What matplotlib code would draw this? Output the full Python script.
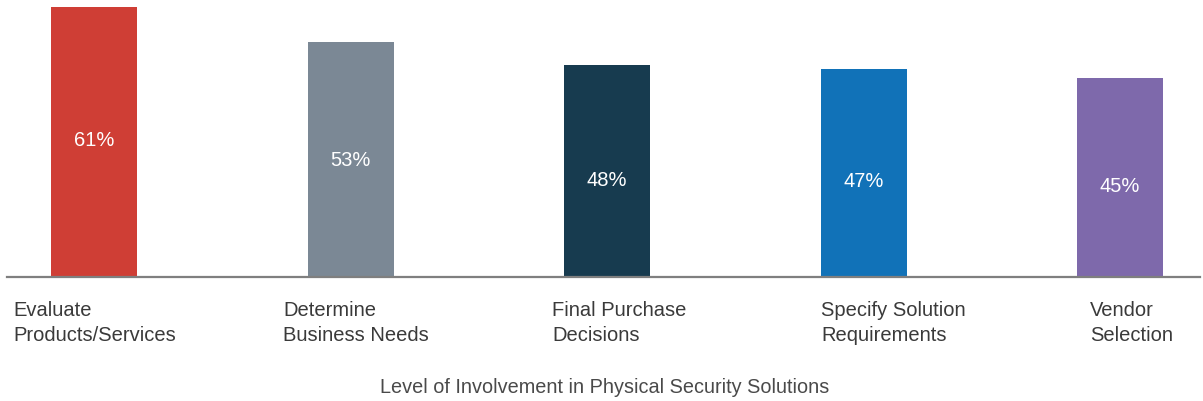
import matplotlib.pyplot as plt

# Involvement data
categories = ['Evaluate\nProducts/Services', 'Determine\nBusiness Needs', 'Final Purchase\nDecisions',
              'Specify Solution\nRequirements', 'Vendor\nSelection']
values = [61, 53, 48, 47, 45]
colors = ['#CF3E35', '#7B8895', '#173B4F', '#1172B8', '#7E69AB']
xlabel = 'Level of Involvement in Physical Security Solutions'

W, H = 1203, 402
fig = plt.figure(figsize=(W / 100, H / 100), dpi=100)

# axes placed in pixels: baseline at y=278 from top, spans x 7..1200
left, right = 7, 1200
base = H - 278
ax = fig.add_axes([left / W, base / H, (right - left) / W, 1 - base / H])
step = 256.5
c0 = 94
ax.set_xlim((left - c0) / step, (right - c0) / step)
ax.set_ylim(0, (H - base) / 4.426)

xs = range(len(values))
ax.bar(xs, values, width=86 / step, color=colors, zorder=2)

# value labels sit roughly mid-bar (slightly lower on the shorter bars)
label_frac = [0.511, 0.499, 0.459, 0.466, 0.457]
for x, v, f in zip(xs, values, label_frac):
    ax.text(x, v * f, f'{v}%', ha='center', va='center', color='white',
            fontsize=14.5, family='Liberation Sans')

for s in ['top', 'right', 'left']:
    ax.spines[s].set_visible(False)
ax.spines['bottom'].set_color('#7f7f7f')
ax.spines['bottom'].set_linewidth(1.6)
ax.set_xticks([])
ax.set_yticks([])

# category labels, left aligned
label_x = [13, 283, 552, 821, 1090]
for lx, cat in zip(label_x, categories):
    fig.text(lx / W, 1 - 301 / H, cat, ha='left', va='top', fontsize=14.5,
             color='#3a3a3a', family='Liberation Sans', linespacing=1.38)

fig.text(605 / W, 1 - 388 / H, xlabel, ha='center', va='center', fontsize=14.3,
         color='#4a4a4a', family='Liberation Sans')

fig.savefig('out.png', dpi=100, facecolor='white')
